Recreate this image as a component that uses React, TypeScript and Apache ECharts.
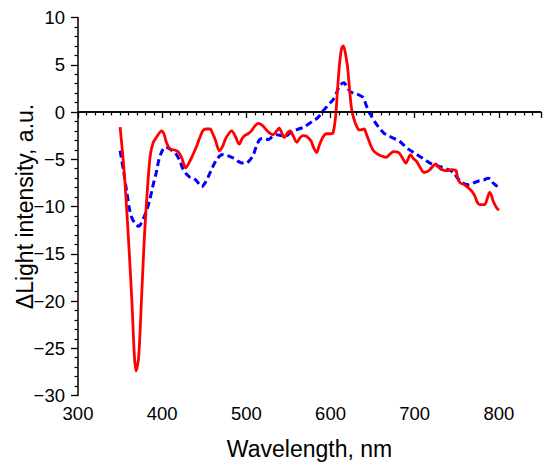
import React, { useEffect, useRef } from "react";
import * as echarts from "echarts";

const redX = [350,355,360,364,367,369,372,375.6,379,383,386,389.5,393,396,399,402,405,409,414,419,423,428,434,441,446,449,453,457,460,463,468,472,475,479,482.5,487,491.5,495,498,502,506,510,514,517,520,526,532,536,539,542,545,549,552,556,560,564,568,572,577,580,583.5,586,589.5,593,596,600,603,606,608,610.5,613,615,617,620,622.5,625,628,631,634,636,640,642,645,648,651,655,659,662,666,670,675,681,685,689.5,692,695,698,702,706,711,715,718,722,725,729,732,738,744,749,751,754,759,763.5,768,771.5,774,777,783,786,789,791,793,797,800];
const redY = [-1.6,-6.5,-13.5,-20,-25.8,-27.4,-26,-19.5,-13,-7.5,-4.5,-3.2,-2.7,-2.3,-2.0,-2.3,-3.2,-3.9,-4.0,-4.2,-4.8,-5.9,-5.0,-3.6,-2.4,-1.9,-1.8,-1.8,-2.3,-2.9,-4.1,-3.6,-2.9,-2.3,-2.0,-2.6,-3.4,-2.8,-2.5,-2.3,-2.0,-1.5,-1.2,-1.3,-1.5,-2.1,-2.4,-2.0,-1.7,-2.2,-2.7,-2.2,-2.0,-2.6,-3.2,-2.7,-2.5,-2.6,-3.1,-3.8,-4.3,-3.7,-2.9,-2.4,-2.3,-2.3,-2.2,-0.5,2.0,4.9,6.7,7.0,6.5,4.9,2.5,0.3,-0.8,-1.5,-1.9,-1.9,-1.8,-2.2,-2.9,-3.6,-4.1,-4.4,-4.6,-4.7,-4.8,-4.5,-4.2,-4.3,-4.8,-5.4,-5.0,-4.5,-4.9,-5.2,-5.8,-6.4,-6.3,-6.1,-5.7,-5.5,-5.9,-6.1,-6.2,-6.1,-6.2,-7.0,-7.5,-7.7,-8.0,-8.4,-8.9,-9.5,-9.8,-9.8,-9.2,-8.5,-8.8,-9.4,-10.1,-10.4];

const blueX = [350,354,358,361,364,368,372,375,378,382,385.5,389,393,396,400,404,407,412,417,421,425,429,433,437,441,447,451,455,460,465,469,473,480,485,490,495,500,504,508,512,516,521,526,531,536,542,548,552,556,562,568,575,580,585,590,595,600,603,607,611,616,619,623,627,631,636,639,642,645,649,653,658,663,668,673,678,682,687,692,699,706,713,720,727,734,740,746,750,754,759,764,770,776,782,787,790,793,797,800];
const blueY = [-4.1,-6.2,-8.5,-10.2,-11.2,-11.8,-12.1,-11.8,-11.2,-10.3,-9.2,-7.8,-6.4,-5.1,-4.1,-3.7,-3.8,-4.1,-4.5,-5.2,-6.1,-6.6,-6.9,-7.0,-7.3,-7.9,-7.5,-6.8,-5.8,-5.0,-4.6,-4.5,-4.7,-4.9,-5.2,-5.4,-5.4,-5.1,-4.6,-3.6,-2.9,-2.8,-2.9,-2.6,-2.4,-2.5,-2.5,-2.2,-2.0,-1.8,-1.6,-1.2,-0.9,-0.6,0,0.5,1.0,1.3,2.0,2.8,3.1,2.7,2.2,2.0,1.9,1.7,1.5,0.8,0.1,-0.5,-1.1,-1.7,-2.2,-2.5,-2.7,-2.9,-3.1,-3.5,-3.9,-4.3,-4.7,-5.1,-5.5,-5.7,-5.9,-6.1,-6.4,-6.9,-7.3,-7.6,-7.7,-7.5,-7.3,-7.2,-7.0,-7.1,-7.5,-7.8,-8.1];

const xTicks = [300, 400, 500, 600, 700, 800];
const yTicks = [-30, -25, -20, -15, -10, -5, 0, 5, 10];

const FONT = "'Liberation Sans', Arial, sans-serif";

export default function App() {
  const ref = useRef<HTMLDivElement>(null);
  useEffect(() => {
    document.body.style.margin = "0";
    const chart = echarts.init(ref.current!, null, { renderer: "svg" });
    const zip = (xs: number[], ys: number[]) => xs.map((x, i) => [x, ys[i]]);
    chart.setOption({
      animation: false,
      grid: { left: 78, right: 9, top: 17.5, bottom: 76.5, containLabel: false, outerBoundsMode: "none" },
      xAxis: {
        type: "value",
        min: 300,
        max: 850,
        interval: 100,
        name: "Wavelength, nm",
        nameLocation: "middle",
        nameGap: 42,
        nameMoveOverlap: false,
        nameTextStyle: { fontFamily: FONT, fontSize: 23, color: "#000" },
        axisLine: { show: true, lineStyle: { color: "#000", width: 1.5 } },
        axisTick: { show: true, inside: false, length: 6, lineStyle: { color: "#000", width: 1.3 } },
        minorTick: { show: true, splitNumber: 10, length: 3.5, lineStyle: { color: "#000", width: 1.2 } },
        splitLine: { show: false },
        axisLabel: {
          margin: 8,
          fontFamily: FONT,
          fontSize: 18.5,
          color: "#000",
          formatter: (v: number) => (xTicks.includes(v) ? String(v) : ""),
        },
      },
      yAxis: {
        type: "value",
        min: -30,
        max: 10,
        interval: 5,
        name: "ΔLight intensity, a.u.",
        nameLocation: "middle",
        nameGap: 42,
        nameMoveOverlap: false,
        nameRotate: 90,
        nameTextStyle: { fontFamily: FONT, fontSize: 23, color: "#000" },
        axisLine: { show: true, lineStyle: { color: "#000", width: 1.5 } },
        axisTick: { show: true, inside: false, length: 7, lineStyle: { color: "#000", width: 1.3 } },
        minorTick: { show: true, splitNumber: 5, length: 3.5, lineStyle: { color: "#000", width: 1.2 } },
        splitLine: { show: false },
        axisLabel: {
          margin: 13,
          fontFamily: FONT,
          fontSize: 18.5,
          color: "#000",
          formatter: (v: number) => (yTicks.includes(v) ? String(v).replace("-", "\u2212") : ""),
        },
      },
      series: [
        {
          type: "line",
          data: zip(blueX, blueY),
          showSymbol: false,
          smooth: 0.3,
          lineStyle: { color: "#0000ff", width: 3, type: [7, 4] },
          z: 2,
        },
        {
          type: "line",
          data: zip(redX, redY),
          showSymbol: false,
          smooth: 0.3,
          lineStyle: { color: "#ff0000", width: 2.8 },
          z: 3,
          markLine: {
            silent: true,
            symbol: "none",
            label: { show: false },
            lineStyle: { color: "#000", width: 1.5, type: "solid" },
            data: [{ yAxis: 0 }],
          },
        },
      ],
    });
    return () => chart.dispose();
  }, []);
  return <div ref={ref} style={{ width: 550, height: 472 }} />;
}
